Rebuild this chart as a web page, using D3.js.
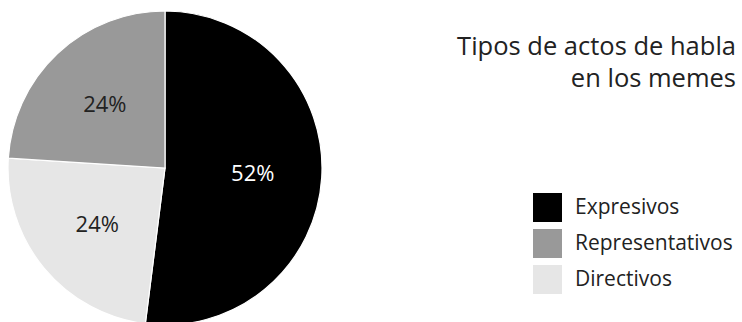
<!DOCTYPE html>
<html><head><meta charset="utf-8">
<script src="https://cdn.jsdelivr.net/npm/d3@7"></script>
<style>body{margin:0;background:#fff}svg{display:block}text{font-family:"Open Sans",sans-serif}</style>
</head><body><svg id="c" width="742" height="322"></svg>
<script>
const categories = ["Expresivos", "Directivos", "Representativos"];
const values = [52, 24, 24];
const colors = ["#000000", "#e6e6e6", "#999999"];
const legendOrder = ["Expresivos", "Representativos", "Directivos"];
const titleLines = ["Tipos de actos de habla", "en los memes"];

const svg = d3.select("#c");
const cx = 165, cy = 168, r = 157;
const data = categories.map((c, i) => ({cat: c, value: values[i], color: colors[i]}));
const pie = d3.pie().sort(null).value(d => d.value);
const arc = d3.arc().innerRadius(0).outerRadius(r);
const labelArc = d3.arc().innerRadius(r * 0.56).outerRadius(r * 0.56);
const g = svg.append("g").attr("transform", `translate(${cx},${cy})`);
const arcs = pie(data);
g.selectAll("path").data(arcs).join("path")
  .attr("d", arc).attr("fill", d => d.data.color)
  .attr("stroke", "#fff").attr("stroke-width", 1.2);
g.selectAll("text").data(arcs).join("text")
  .attr("transform", d => { const [x, y] = labelArc.centroid(d); return `translate(${x},${y})`; })
  .attr("text-anchor", "middle").attr("dy", "0.35em")
  .attr("font-size", 22)
  .attr("fill", d => d.data.color === "#000000" ? "#fff" : "#222")
  .text(d => d.data.value + "%");

svg.selectAll("text.title").data(titleLines).join("text").attr("class", "title")
  .attr("x", 736).attr("y", (d, i) => 55 + i * 32)
  .attr("text-anchor", "end").attr("font-size", 25.5).attr("fill", "#222").text(d => d);

const colorOf = c => colors[categories.indexOf(c)];
const lg = svg.append("g").attr("transform", "translate(533,193)");
const items = lg.selectAll("g").data(legendOrder).join("g")
  .attr("transform", (d, i) => `translate(0,${i * 36})`);
items.append("rect").attr("width", 29).attr("height", 29).attr("fill", d => colorOf(d));
items.append("text").attr("x", 42).attr("y", 21).attr("font-size", 21).attr("fill", "#222").text(d => d);
</script></body></html>
